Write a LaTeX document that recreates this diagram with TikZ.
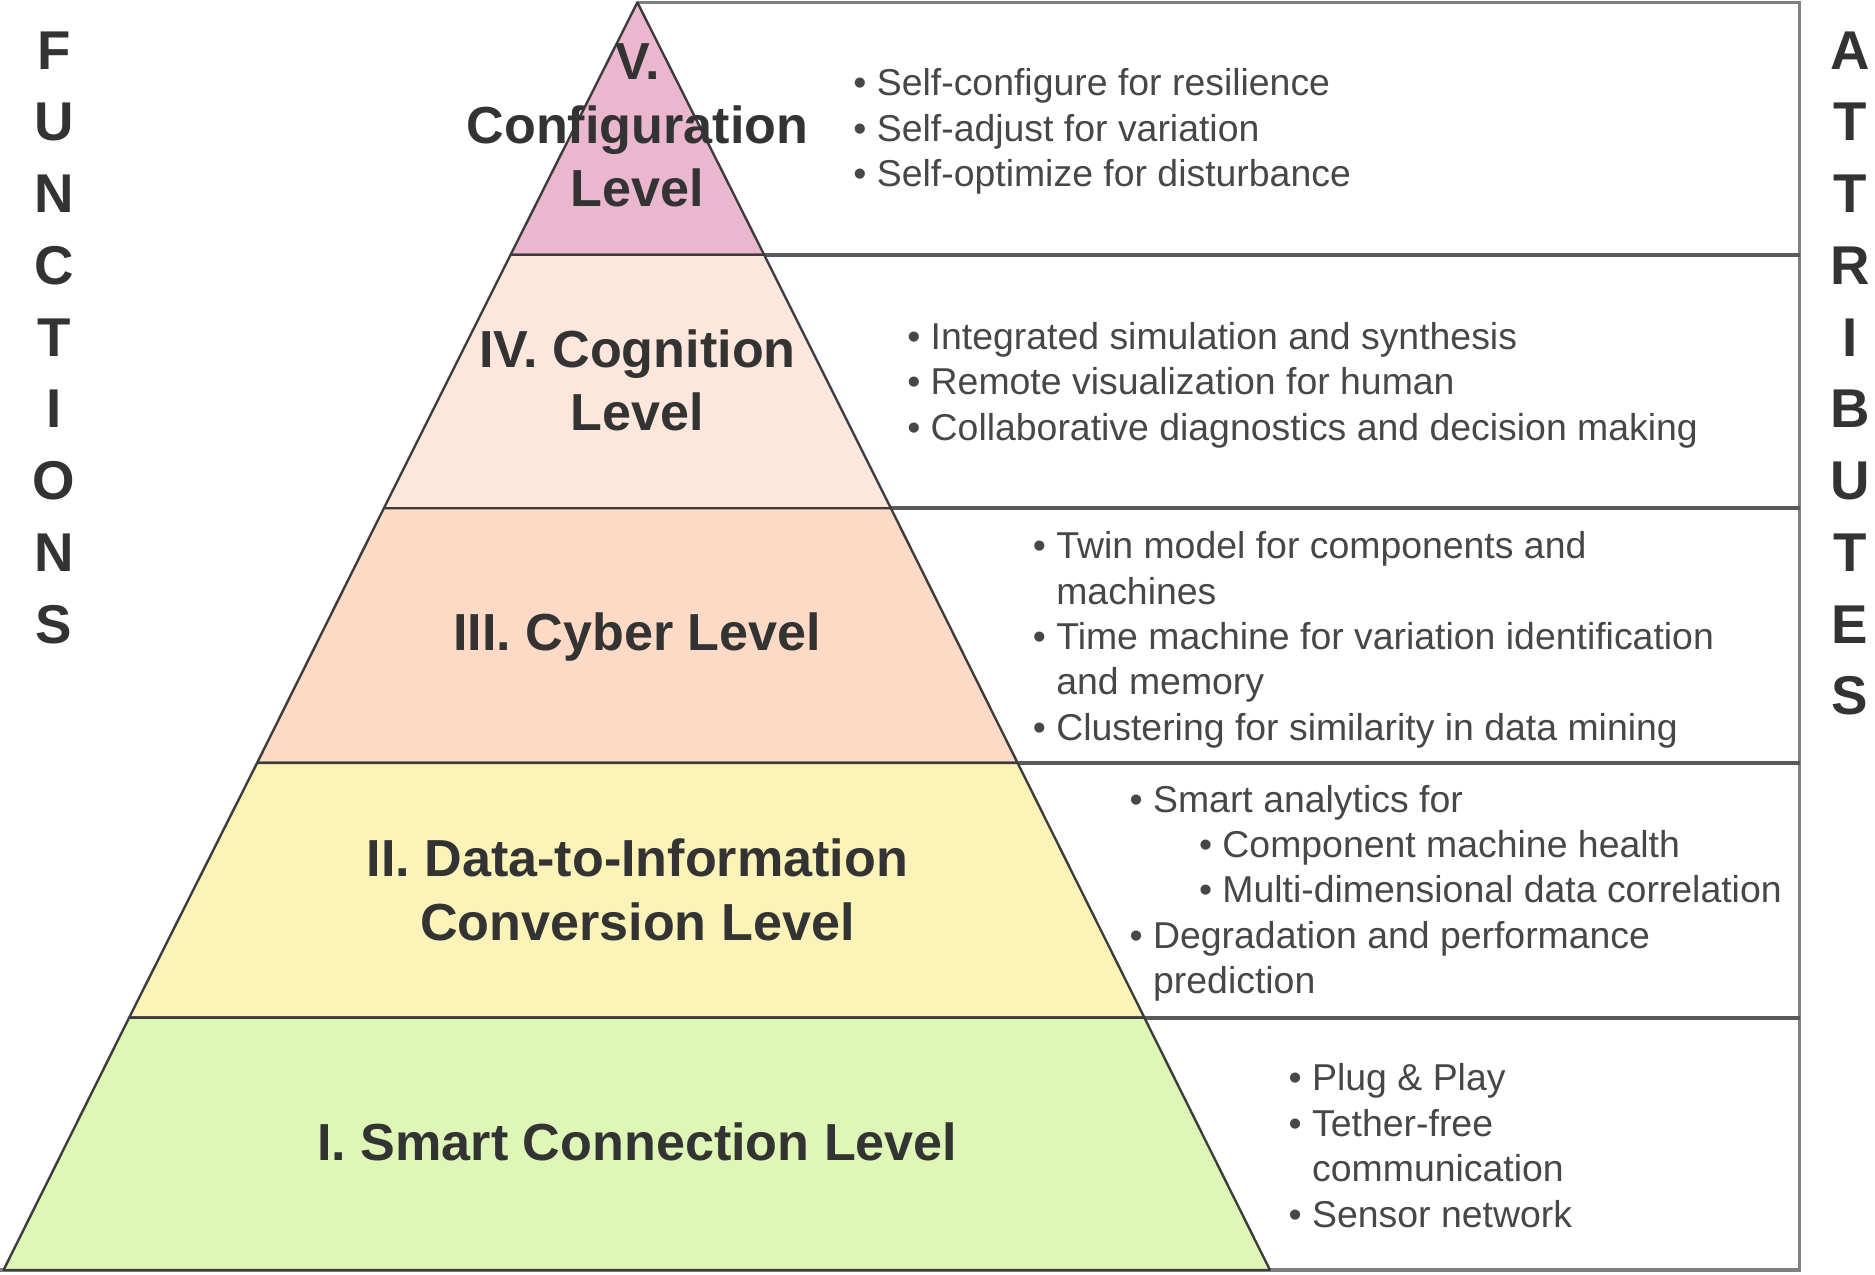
\documentclass[tikz,border=0pt]{standalone}
\usepackage{fontspec}
\setmainfont{Liberation Sans}
\usetikzlibrary{positioning,calc}
\definecolor{lvfive}{HTML}{EBB7CE}
\definecolor{lvfour}{HTML}{FDE7DC}
\definecolor{lvthree}{HTML}{FCDAC6}
\definecolor{lvtwo}{HTML}{FBF3B7}
\definecolor{lvone}{HTML}{DEF6B6}
\definecolor{txtgray}{HTML}{333333}
\definecolor{pyredge}{HTML}{3C3C3C}
\definecolor{boxgray}{HTML}{808080}
\tikzset{band/.style={draw=pyredge, line width=0.2mm, line join=round},
	boxline/.style={draw=boxgray, line width=0.3mm},
	sepline/.style={draw=pyredge!85, line width=0.35mm}}
\newcommand{\drawtitle}{\node[font=\bfseries\fontsize{12.4}{15.1}\selectfont, text=txtgray, align=center, inner sep=0]}
\newcommand{\drawlist}{\node[anchor=west, align=left, inner sep=0, font=\fontsize{8.9}{10.8}\selectfont, text=txtgray!90]}
\newcommand{\drawletter}{\node[font=\bfseries\fontsize{13}{13}\selectfont, text=txtgray, inner sep=0]}
\newcommand{\itm}{\textbullet\ }
\newcommand{\hng}{\hphantom{\textbullet\ }}
\begin{document}
\begin{tikzpicture}[x=0.1mm,y=-0.1mm]
	\useasboundingbox (0,0) rectangle (1568,1066);
	
	\coordinate (top) at (533,2);
	\coordinate (l1) at (427,213); \coordinate (r1) at (639,213);
	\coordinate (l2) at (321,425); \coordinate (r2) at (745,425);
	\coordinate (l3) at (215,638); \coordinate (r3) at (851,638);
	\coordinate (l4) at (108,851); \coordinate (r4) at (957,851);
	\coordinate (l5) at (3,1062); \coordinate (r5) at (1062,1062);
	\coordinate (tr) at (1505,2);
	\coordinate (br) at (1505,1062);
	\coordinate (bl) at (0,1062);
	
	% attribute box
	\draw[boxline] (top) -- (tr) -- (br) -- (bl);
	\draw[sepline] (r1) -- (r1 -| tr);
	\draw[sepline] (r2) -- (r2 -| tr);
	\draw[sepline] (r3) -- (r3 -| tr);
	\draw[sepline] (r4) -- (r4 -| tr);
	
	% pyramid
	\filldraw[band, fill=lvfive] (top) -- (r1) -- (l1) -- cycle;
	\filldraw[band, fill=lvfour] (l1) -- (r1) -- (r2) -- (l2) -- cycle;
	\filldraw[band, fill=lvthree] (l2) -- (r2) -- (r3) -- (l3) -- cycle;
	\filldraw[band, fill=lvtwo] (l3) -- (r3) -- (r4) -- (l4) -- cycle;
	\filldraw[band, fill=lvone] (l4) -- (r4) -- (r5) -- (l5) -- cycle;
	
	\drawtitle (t5) at (533,105) {V.\\Configuration\\Level};
	\drawtitle (t4) at (533,318) {IV. Cognition\\Level};
	\drawtitle (t3) at (533,533) {III. Cyber Level};
	\drawtitle (t2) at (533,744) {II. Data-to-Information\\Conversion Level};
	\drawtitle (t1) at (533,955) {I. Smart Connection Level};
	
	\drawlist (a5) at (713,110) {\itm Self-configure for resilience\\\itm Self-adjust for variation\\\itm Self-optimize for disturbance};
	\drawlist (a4) at (758,322) {\itm Integrated simulation and synthesis\\\itm Remote visualization for human\\\itm Collaborative diagnostics and decision making};
	\drawlist (a3) at (863,535) {\itm Twin model for components and\\\hng machines\\\itm Time machine for variation identification\\\hng and memory\\\itm Clustering for similarity in data mining};
	\drawlist (a2) at (944,747) {\itm Smart analytics for\\\hspace*{5.8mm}\itm Component machine health\\\hspace*{5.8mm}\itm Multi-dimensional data correlation\\\itm Degradation and performance\\\hng prediction};
	\drawlist (a1) at (1077,958) {\itm Plug \& Play\\\itm Tether-free\\\hng communication\\\itm Sensor network};
	
	\foreach \ch [count=\i] in {F,U,N,C,T,I,O,N,S}
		\drawletter (f\i) at (45,{42+60*(\i-1)}) {\ch};
	\foreach \ch [count=\i] in {A,T,T,R,I,B,U,T,E,S}
		\drawletter (g\i) at (1547,{42+60*(\i-1)}) {\ch};
	
\end{tikzpicture}
\end{document}
